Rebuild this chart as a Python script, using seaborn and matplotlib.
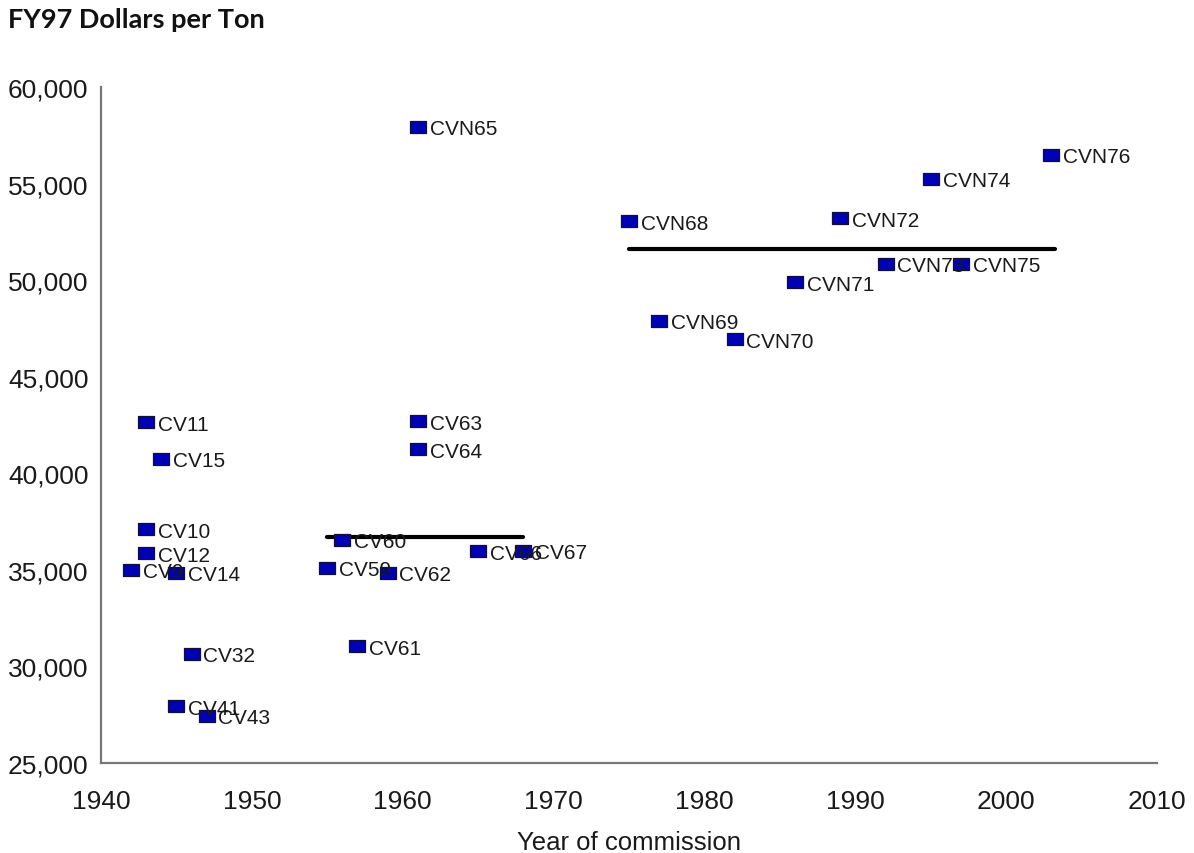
import matplotlib
matplotlib.use("Agg")
import matplotlib.pyplot as plt
import seaborn as sns
import pandas as pd

# ---- data ----
ships = ["CV9", "CV10", "CV11", "CV12", "CV14", "CV15", "CV32", "CV41", "CV43",
         "CV59", "CV60", "CV61", "CV62", "CV63", "CV64", "CVN65", "CV66", "CV67",
         "CVN68", "CVN69", "CVN70", "CVN71", "CVN72", "CVN73", "CVN74", "CVN75", "CVN76"]
years = [1942, 1943, 1943, 1943, 1945, 1944, 1946, 1945, 1947,
         1955, 1956, 1957, 1959, 1961, 1961, 1961, 1965, 1968,
         1975, 1977, 1982, 1986, 1989, 1992, 1995, 1997, 2003]
cost = [35000, 37100, 42650, 35850, 34850, 40750, 30650, 27950, 27450,
        35100, 36550, 31050, 34850, 42700, 41250, 57950, 35950, 36000,
        53050, 47900, 46950, 49900, 53200, 50850, 55250, 50850, 56500]

avg_years_1 = [1955, 1968]
avg_cost_1 = [36700, 36700]
avg_years_2 = [1975, 2003.2]
avg_cost_2 = [51600, 51600]

xticks = [1940, 1950, 1960, 1970, 1980, 1990, 2000, 2010]
yticks = [25000, 30000, 35000, 40000, 45000, 50000, 55000, 60000]

df = pd.DataFrame({"ship": ships, "year": years, "cost": cost})

sns.set_style("white")
plt.rcParams["font.family"] = ["Liberation Sans", "DejaVu Sans"]

fig = plt.figure(figsize=(11.94, 8.54), dpi=100)
ax = fig.add_axes([0.0846, 0.1054, 0.8845, 0.7916])

rect = [(-8, -6.3), (8, -6.3), (8, 6.3), (-8, 6.3), (-8, -6.3)]
sns.scatterplot(data=df, x="year", y="cost", ax=ax, marker=rect, s=135,
                color="#0000b4", edgecolor="#10103a", linewidth=0.9, zorder=3)

ax.plot(avg_years_1, avg_cost_1, color="black", lw=3, zorder=2, solid_capstyle="round")
ax.plot(avg_years_2, avg_cost_2, color="black", lw=3, zorder=2, solid_capstyle="round")

for s, x, y in zip(ships, years, cost):
    ax.annotate(s, (x, y), xytext=(8.5, -1.5), textcoords="offset points",
                ha="left", va="center", fontsize=15, color="#1a1a1a", zorder=4)

ax.set_xlim(1940, 2010)
ax.set_ylim(25000, 60000)
ax.set_xticks(xticks)
ax.set_yticks(yticks)
ax.set_xticklabels([str(t) for t in xticks])
ax.set_yticklabels([f"{t:,}" for t in yticks])
ax.tick_params(axis="both", length=0, labelsize=19, colors="#1a1a1a")
ax.tick_params(axis="x", pad=19)
ax.tick_params(axis="y", pad=9)

for side in ["top", "right"]:
    ax.spines[side].set_visible(False)
for side in ["left", "bottom"]:
    ax.spines[side].set_color("#777777")
    ax.spines[side].set_linewidth(1.6)

ax.set_xlabel("Year of commission", fontsize=18.5, color="#1a1a1a", labelpad=12)
ax.set_ylabel("")

fig.text(0.007, 0.977, "FY97 Dollars per Ton", fontsize=19.5, fontweight="bold",
         family=["Lato", "DejaVu Sans"], ha="left", va="center", color="#111111")

fig.savefig("out.png", dpi=100)
